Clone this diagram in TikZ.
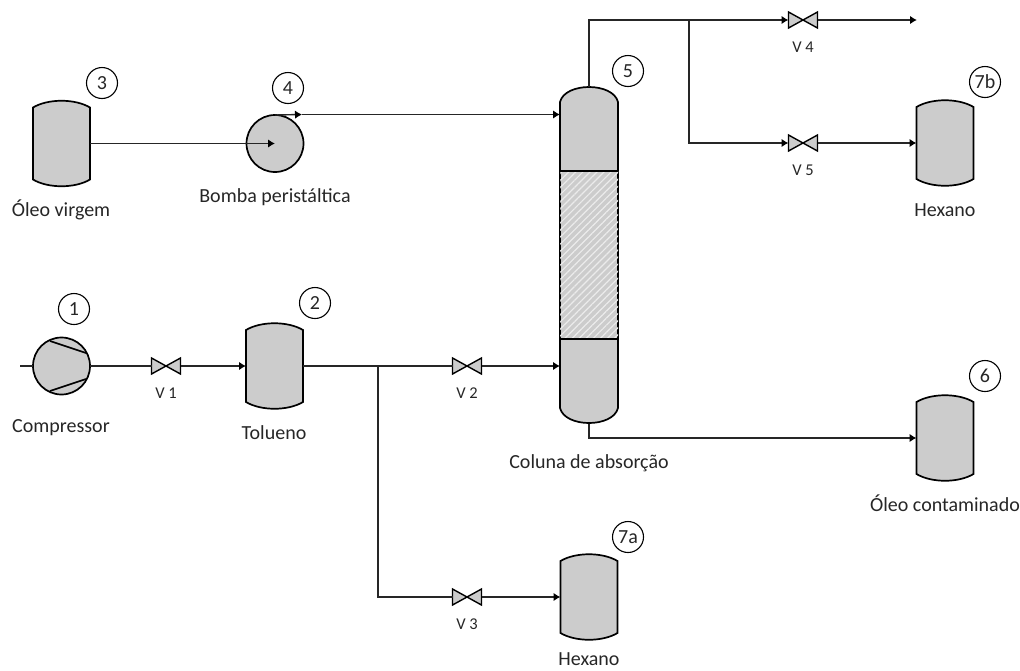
\documentclass[tikz,border=0pt]{standalone}
\usepackage{fontspec}
\setmainfont{Carlito}
\usetikzlibrary{arrows.meta,patterns.meta}
\definecolor{tankgray}{HTML}{CCCCCC}
\tikzset{
  equip/.style={draw=black,line width=1.7pt,fill=tankgray},
  pipe/.style={draw=black!85,line width=1.4pt},
  flow/.style={pipe,-{Latex[length=7pt,width=8.5pt,black]}},
  tankbox/.style={minimum width=57pt,minimum height=86pt,inner sep=0pt,outer sep=0pt},
  valvebox/.style={minimum width=29pt,minimum height=16pt,inner sep=0pt,outer sep=0pt},
  roundbox/.style={circle,minimum size=57pt,inner sep=0pt,outer sep=0pt},
  tag/.style={circle,draw=black,line width=1.1pt,minimum size=31pt,inner sep=0pt,font=\fontsize{20}{20}\selectfont,text=black!85},
  txt/.style={font=\fontsize{20}{20}\selectfont,text=black!85},
  vtxt/.style={font=\fontsize{16.5}{16.5}\selectfont,text=black!85}
}
% vessel with two domes
\newcommand{\tank}[2]{
  \node[tankbox] (#1) at (#2) {};
  \draw[equip] ([yshift=-7pt]#1.north west) .. controls +(15,-9) and +(-15,-9) .. ([yshift=-7pt]#1.north east)
    -- ([yshift=7pt]#1.south east) .. controls +(-15,9) and +(15,9) .. ([yshift=7pt]#1.south west) -- cycle;
}
% valve, V n printed under it
\newcommand{\valve}[3]{
  \node[valvebox,label={[vtxt,label distance=10pt]below:#3}] (#1) at (#2) {};
  \draw[equip,line width=1.4pt] (#1.north west) -- (#1.south east) -- (#1.north east) -- (#1.south west) -- cycle;
}
\begin{document}
\begin{tikzpicture}[x=1pt,y=-1pt]
  \useasboundingbox (0,0) rectangle (1020,670);

  % vessels
  \tank{oleo}{61.5,143.5}
  \tank{tolueno}{274.5,366}
  \tank{hexanoa}{589,597}
  \tank{hexanob}{945,143}
  \tank{contam}{945,438}

  % compressor and pump
  \node[roundbox,equip] (comp) at (61.5,366) {};
  \draw[line width=1.7pt] (50,341) -- (86,353)
                          (50,391) -- (86,379);
  \node[roundbox,equip] (bomba) at (275,143.5) {};

  % the column
  \node[minimum width=58pt,minimum height=337pt,inner sep=0pt,outer sep=0pt] (col) at (589,255.5) {};
  \draw[equip] ([yshift=-15pt]col.north west) .. controls +(5,-20) and +(-5,-20) .. ([yshift=-15pt]col.north east)
    -- ([yshift=16pt]col.south east) .. controls +(-5,20) and +(5,20) .. ([yshift=16pt]col.south west) -- cycle;
  \fill[pattern={Lines[angle=45,distance=5pt,line width=1.2pt]},pattern color=white!92!black] (560,171) rectangle (618,339);
  \draw[line width=1.7pt] (560,171) -- (618,171)
                          (560,339) -- (618,339);

  % valves
  \valve{vum}{166,366}{V 1}
  \valve{vdois}{467,366}{V 2}
  \valve{vtres}{467,597}{V 3}
  \valve{vquatro}{803,20}{V 4}
  \valve{vcinco}{803,143}{V 5}

  % free ends and branch points
  \coordinate (ar) at (20,366);
  \coordinate (saida) at (917,20);
  \coordinate (desvtol) at (378,366);
  \coordinate (desvtopo) at (689,20);
  \coordinate (seta) at (302,114.5);

  % lower line
  \draw[pipe] (ar) -- (comp.west);
  \draw[pipe] (comp.east) -- (vum.west);
  \draw[flow] (vum.east) -- (tolueno.west);
  \draw[pipe] (tolueno.east) -- (vdois.west);
  \draw[flow] (vdois.east) -- (vdois.east -| col.west);
  \draw[pipe] (desvtol) |- (vtres.west);
  \draw[flow] (vtres.east) -- (hexanoa.west);

  % upper line
  \draw[flow] (oleo.east) -- (bomba.center);
  \draw[flow] (bomba.north) -- (seta);
  \draw[flow] (seta) -- (seta -| col.west);

  % top and bottom of the column
  \draw[flow] (col.north) |- (vquatro.west);
  \draw[flow] (vquatro.east) -- (saida);
  \draw[flow] (desvtopo) |- (vcinco.west);
  \draw[flow] (vcinco.east) -- (hexanob.west);
  \draw[flow] (col.south) |- (contam.west);

  % numbers
  \node[tag] (num1) at (74,309) {1};
  \node[tag] (num2) at (315,303) {2};
  \node[tag] (num3) at (102,83) {3};
  \node[tag] (num4) at (288,88) {4};
  \node[tag] (num5) at (628,71) {5};
  \node[tag] (num6) at (985,376) {6};
  \node[tag] (num7a) at (628,537) {7a};
  \node[tag] (num7b) at (985,82) {7b};

  % names
  \node[txt] (lboleo) at (61,210) {Óleo virgem};
  \node[txt] (lbbomba) at (275,197) {Bomba peristáltica};
  \node[txt] (lbcomp) at (61,428) {Compressor};
  \node[txt] (lbtol) at (274,433) {Tolueno};
  \node[txt] (lbcol) at (589,463) {Coluna de absorção};
  \node[txt] (lbcont) at (945,503) {Óleo contaminado};
  \node[txt] (lbhexa) at (589,659) {Hexano};
  \node[txt] (lbhexb) at (945,210) {Hexano};
\end{tikzpicture}
\end{document}
